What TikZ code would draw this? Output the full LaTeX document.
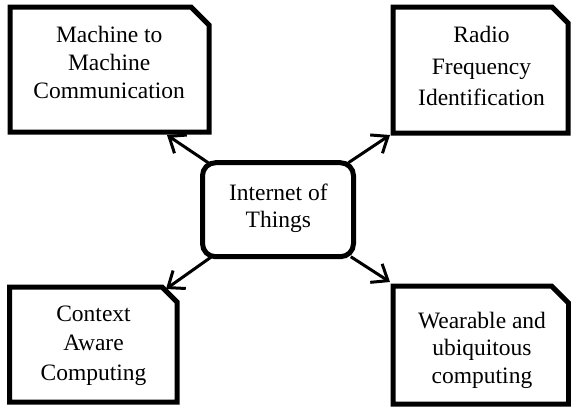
\documentclass[tikz,border=0pt]{standalone}
\usepackage{fontspec}
\setmainfont{Liberation Serif}
\usetikzlibrary{arrows.meta}
\tikzset{
  area/.style={inner sep=0pt, outer sep=0pt, draw=none},
  frame/.style={line width=5pt, line join=miter},
  % text is placed by the baseline of its last line
  boxtext/.style={align=center, anchor=base, inner sep=0pt,
    font=\fontsize{23.5}{#1}\selectfont},
  link/.style={line width=3pt, -{Straight Barb[length=14pt,width=22pt]}},
}
\begin{document}
\begin{tikzpicture}[x=1pt,y=-1pt]
\useasboundingbox (0,0) rectangle (571,407);

% central topic
\node[area, draw, line width=5pt, rounded corners=13pt,
      minimum width=151pt, minimum height=94pt] (iot) at (278,209.7) {};
\node[boxtext=27pt] (iottext) at (278.3,227) {Internet of\\Things};

% surrounding areas: boxes with a cut top-right corner
\node[area, minimum width=199pt, minimum height=125pt] (m2m) at (109.5,69.5) {};
\draw[frame] (m2m.south west) |- ([xshift=-18pt]m2m.north east)
  -- ([yshift=-18pt]m2m.north east) -- (m2m.south east) -- cycle;
\node[boxtext=28pt] (m2mtext) at (109.2,98.3) {Machine to\\Machine\\Communication};

\node[area, minimum width=175pt, minimum height=126pt] (rfid) at (480.5,70) {};
\draw[frame] (rfid.south west) |- ([xshift=-16pt]rfid.north east)
  -- ([yshift=-16pt]rfid.north east) -- (rfid.south east) -- cycle;
\node[boxtext=31.7pt] (rfidtext) at (481.5,105.7) {Radio\\Frequency\\Identification};

\node[area, minimum width=167.5pt, minimum height=115pt] (cac) at (93.25,344.5) {};
\draw[frame] (cac.south west) |- ([xshift=-15pt]cac.north east)
  -- ([yshift=-15pt]cac.north east) -- (cac.south east) -- cycle;
\node[boxtext=29.2pt] (cactext) at (93.5,380) {Context\\Aware\\Computing};

\node[area, minimum width=175.5pt, minimum height=118pt] (wear) at (480.75,345) {};
\draw[frame] (wear.south west) |- ([xshift=-17pt]wear.north east)
  -- ([yshift=-17pt]wear.north east) -- (wear.south east) -- cycle;
\node[boxtext=27.5pt] (weartext) at (482,383.3) {Wearable and\\ubiquitous\\computing};

% connectors
\draw[link] (iot) -- ([xshift=-42pt,yshift=-3pt]m2m.south east);
\draw[link] (iot) -- ([xshift=-3pt,yshift=-2pt]rfid.south west);
\draw[link] (iot) -- ([xshift=-11pt,yshift=-2pt]cac.north east);
\draw[link] (iot) -- ([xshift=-3pt,yshift=4pt]wear.north west);
\end{tikzpicture}
\end{document}
